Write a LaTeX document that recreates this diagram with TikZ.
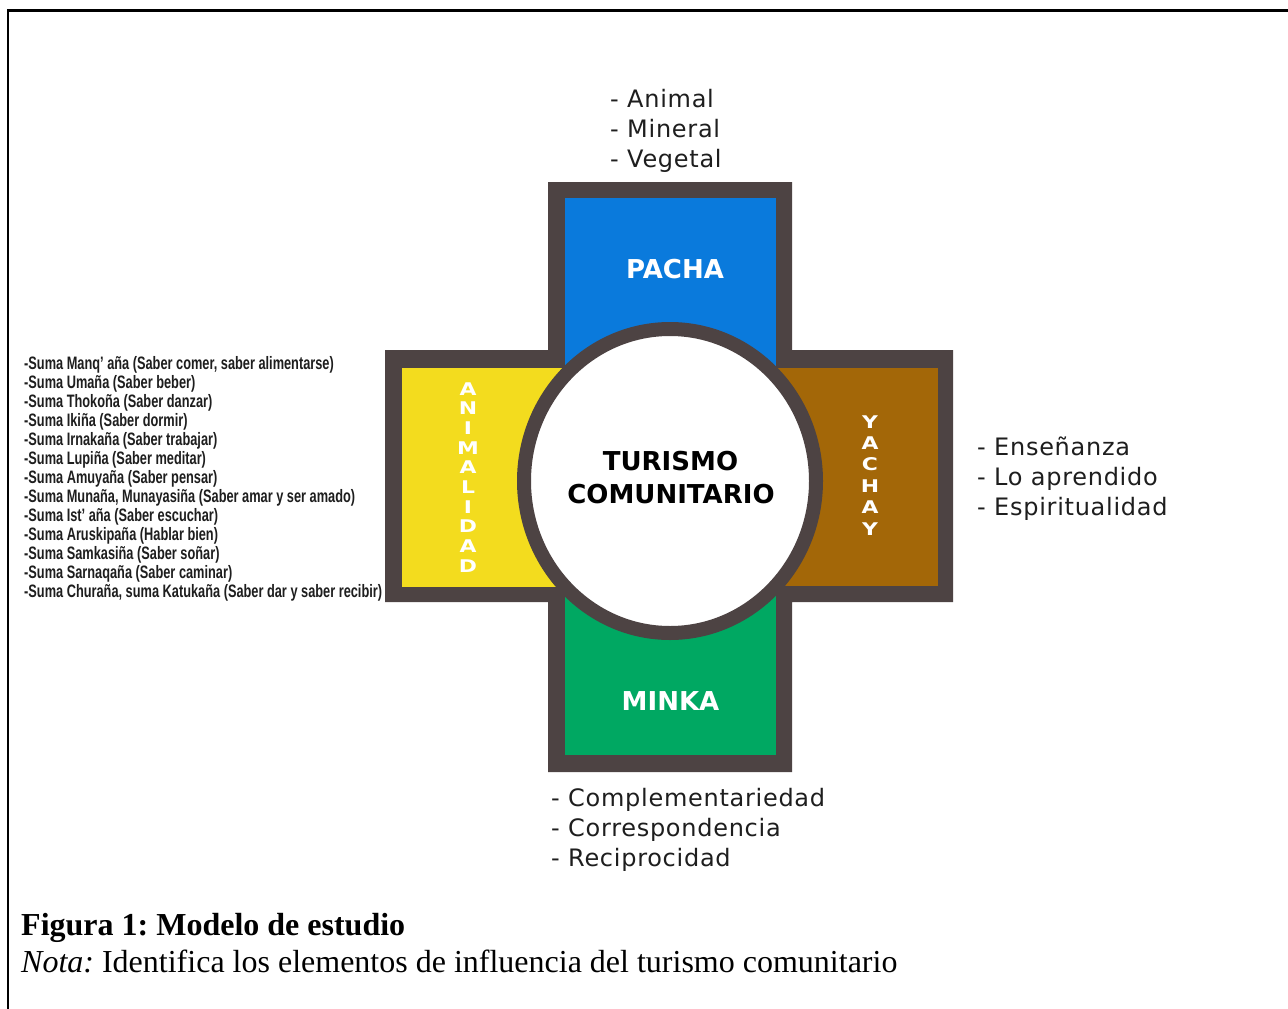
\documentclass[tikz,border=0pt]{standalone}
\usepackage{fontspec}
\setmainfont{Liberation Serif}
\newfontfamily\listfont[LetterSpace=3]{DejaVu Sans}
\newfontfamily\headfont{DejaVu Sans}
\newfontfamily\wideletter[FakeStretch=1.25]{DejaVu Sans}
\newfontfamily\narrowfont[FakeStretch=0.71]{Liberation Sans}
\definecolor{crossdark}{RGB}{77,67,67}
\definecolor{pachablue}{RGB}{10,122,220}
\definecolor{animyellow}{RGB}{243,220,30}
\definecolor{yachaybrown}{RGB}{163,103,8}
\definecolor{minkagreen}{RGB}{0,168,98}
\definecolor{textdark}{RGB}{30,30,30}
\tikzset{
 listtext/.style={font=\listfont\fontsize{24}{30}\selectfont, text=textdark, anchor=base west, inner sep=0},
 armlabel/.style={font=\headfont\bfseries\fontsize{26}{30}\selectfont, text=white, anchor=base, inner sep=0},
 centerlabel/.style={font=\headfont\bfseries\fontsize{26}{30}\selectfont, text=black, anchor=base, inner sep=0},
 vletter/.style={font=\wideletter\bfseries\fontsize{17.5}{17.5}\selectfont, text=white, anchor=base, inner sep=0},
 sumatext/.style={font=\narrowfont\bfseries\fontsize{18}{19}\selectfont, text=textdark, anchor=base west, inner sep=0},
 captext/.style={font=\frenchspacing\fontsize{32}{36}\selectfont, text=black, anchor=base west, inner sep=0},
}
\begin{document}
\begin{tikzpicture}[x=1pt,y=-1pt]
\useasboundingbox (0,0) rectangle (1288,1009);
\fill[white] (0,0) rectangle (1288,1009);
% frame
\draw[line width=2.5pt] (7.8,1009) -- (7.8,10.5) -- (1288,10.5);
% cross
\fill[crossdark] (548,182) -- (792,182) -- (792,350) -- (953,350) -- (953,602) -- (792,602) -- (792,772) -- (548,772) -- (548,602) -- (385,602) -- (385,350) -- (548,350) -- cycle;
\fill[pachablue] (565,198) rectangle (776,481);
\fill[animyellow] (402,368) rectangle (670,587);
\fill[yachaybrown] (670,368) rectangle (938,586);
\fill[minkagreen] (565,481) rectangle (776,755);
% circle
\draw[crossdark, fill=white, line width=14pt] (670,481) ellipse [x radius=146, y radius=152];
% labels
\node[armlabel] (pacha) at (675,278) {PACHA};
\node[armlabel] (minka) at (670.5,710) {MINKA};
\node[centerlabel] (tur) at (670.5,470) {TURISMO};
\node[centerlabel] (com) at (671,503) {COMUNITARIO};
\foreach \c [count=\i] in {A,N,I,M,A,L,I,D,A,D}
  \node[vletter] (anim\i) at (468,{395+19.67*(\i-1)}) {\c};
\foreach \c [count=\i] in {Y,A,C,H,A,Y}
  \node[vletter] (yach\i) at (870,{428+21.4*(\i-1)}) {\c};
% lists
\node[listtext] (t1) at (610,107) {- Animal};
\node[listtext] (t2) at (610,137) {- Mineral};
\node[listtext] (t3) at (610,167) {- Vegetal};
\node[listtext] (r1) at (977,455) {- Enseñanza};
\node[listtext] (r2) at (977,485) {- Lo aprendido};
\node[listtext] (r3) at (977,515) {- Espiritualidad};
\node[listtext] (b1) at (551,806) {- Complementariedad};
\node[listtext] (b2) at (551,836) {- Correspondencia};
\node[listtext] (b3) at (551,866) {- Reciprocidad};
\foreach \t [count=\i] in {{-Suma Manq’ aña (Saber comer, saber alimentarse)},
  {-Suma Umaña (Saber beber)},
  {-Suma Thokoña (Saber danzar)},
  {-Suma Ikiña (Saber dormir)},
  {-Suma Irnakaña (Saber trabajar)},
  {-Suma Lupiña (Saber meditar)},
  {-Suma Amuyaña (Saber pensar)},
  {-Suma Munaña, Munayasiña (Saber amar y ser amado)},
  {-Suma Ist’ aña (Saber escuchar)},
  {-Suma Aruskipaña (Hablar bien)},
  {-Suma Samkasiña (Saber soñar)},
  {-Suma Sarnaqaña (Saber caminar)},
  {-Suma Churaña, suma Katukaña (Saber dar y saber recibir)}}
  \node[sumatext] (s\i) at (24,{369+19*(\i-1)}) {\t};
% caption
\node[captext] (fig) at (21,935) {\bfseries Figura 1: Modelo de estudio};
\node[captext] (nota) at (21,972) {\textit{Nota:} Identifica los elementos de influencia del turismo comunitario};
\end{tikzpicture}
\end{document}
